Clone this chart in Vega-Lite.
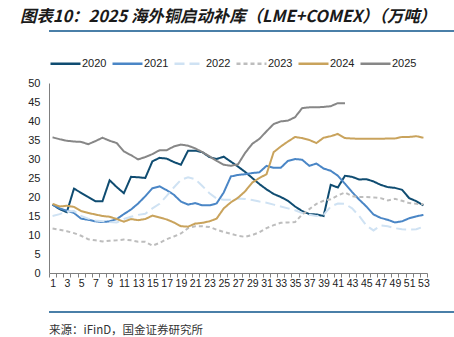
{
"$schema": "https://vega.github.io/schema/vega-lite/v6.json",
"padding": {"left": 20, "top": 8, "right": 0, "bottom": 0},
"background": "white",
"title": {"text": "图表10：2025 海外铜启动补库（LME+COMEX）（万吨）", "anchor": "start", "font": "Noto Sans CJK SC", "fontSize": 16.4, "fontStyle": "italic", "fontWeight": "bold", "color": "#1a1a1a", "offset": 5},
"config": {"view": {"stroke": null}, "font": "Liberation Sans"},
"align": "none",
"spacing": 15,
"resolve": {"scale": {"x": "independent", "y": "independent"}, "axis": {"x": "independent", "y": "independent"}, "legend": {"color": "independent", "strokeDash": "independent"}},
"vconcat": [
{"width": {"step": 434}, "height": 2, "data": {"values": [{"c": "line"}]}, "mark": {"type": "rect", "color": "#4a7fa8"},
 "encoding": {"x": {"field": "c", "type": "nominal", "scale": {"type": "band", "paddingInner": 0, "paddingOuter": 0}, "axis": null}}},
{"width": 378, "height": 190,
"data": {"values": [
{"year":"2020","week":1,"value":18.0},{"year":"2020","week":2,"value":16.8},{"year":"2020","week":3,"value":16.0},{"year":"2020","week":4,"value":22.2},{"year":"2020","week":5,"value":21.1},{"year":"2020","week":6,"value":20.0},{"year":"2020","week":7,"value":18.9},{"year":"2020","week":8,"value":18.9},{"year":"2020","week":9,"value":24.4},{"year":"2020","week":10,"value":22.6},
{"year":"2020","week":11,"value":21.0},{"year":"2020","week":12,"value":25.3},{"year":"2020","week":13,"value":25.2},{"year":"2020","week":14,"value":25.0},{"year":"2020","week":15,"value":29.4},{"year":"2020","week":16,"value":30.3},{"year":"2020","week":17,"value":30.1},{"year":"2020","week":18,"value":29.2},{"year":"2020","week":19,"value":28.5},{"year":"2020","week":20,"value":32.2},
{"year":"2020","week":21,"value":32.2},{"year":"2020","week":22,"value":31.8},{"year":"2020","week":23,"value":30.5},{"year":"2020","week":24,"value":30.0},{"year":"2020","week":25,"value":30.6},{"year":"2020","week":26,"value":29.3},{"year":"2020","week":27,"value":28.0},{"year":"2020","week":28,"value":26.6},{"year":"2020","week":29,"value":25.0},{"year":"2020","week":30,"value":23.4},
{"year":"2020","week":31,"value":22.0},{"year":"2020","week":32,"value":20.8},{"year":"2020","week":33,"value":20.0},{"year":"2020","week":34,"value":19.0},{"year":"2020","week":35,"value":17.5},{"year":"2020","week":36,"value":16.3},{"year":"2020","week":37,"value":15.5},{"year":"2020","week":38,"value":15.4},{"year":"2020","week":39,"value":15.0},{"year":"2020","week":40,"value":23.2},
{"year":"2020","week":41,"value":22.5},{"year":"2020","week":42,"value":25.6},{"year":"2020","week":43,"value":25.3},{"year":"2020","week":44,"value":24.6},{"year":"2020","week":45,"value":24.7},{"year":"2020","week":46,"value":24.1},{"year":"2020","week":47,"value":23.2},{"year":"2020","week":48,"value":22.6},{"year":"2020","week":49,"value":22.4},{"year":"2020","week":50,"value":21.9},
{"year":"2020","week":51,"value":19.7},{"year":"2020","week":52,"value":18.9},{"year":"2020","week":53,"value":17.8},
{"year":"2021","week":1,"value":18.0},{"year":"2021","week":2,"value":17.0},{"year":"2021","week":3,"value":16.4},{"year":"2021","week":4,"value":15.8},{"year":"2021","week":5,"value":14.3},{"year":"2021","week":6,"value":14.0},{"year":"2021","week":7,"value":13.6},{"year":"2021","week":8,"value":13.4},{"year":"2021","week":9,"value":13.6},{"year":"2021","week":10,"value":14.2},
{"year":"2021","week":11,"value":15.5},{"year":"2021","week":12,"value":16.7},{"year":"2021","week":13,"value":18.3},{"year":"2021","week":14,"value":20.2},{"year":"2021","week":15,"value":22.3},{"year":"2021","week":16,"value":22.8},{"year":"2021","week":17,"value":21.8},{"year":"2021","week":18,"value":20.6},{"year":"2021","week":19,"value":18.8},{"year":"2021","week":20,"value":18.0},
{"year":"2021","week":21,"value":18.4},{"year":"2021","week":22,"value":17.8},{"year":"2021","week":23,"value":17.8},{"year":"2021","week":24,"value":18.3},{"year":"2021","week":25,"value":21.2},{"year":"2021","week":26,"value":25.4},{"year":"2021","week":27,"value":25.8},{"year":"2021","week":28,"value":26.0},{"year":"2021","week":29,"value":26.3},{"year":"2021","week":30,"value":26.5},
{"year":"2021","week":31,"value":28.2},{"year":"2021","week":32,"value":27.7},{"year":"2021","week":33,"value":27.7},{"year":"2021","week":34,"value":29.5},{"year":"2021","week":35,"value":30.0},{"year":"2021","week":36,"value":29.8},{"year":"2021","week":37,"value":28.2},{"year":"2021","week":38,"value":28.8},{"year":"2021","week":39,"value":27.5},{"year":"2021","week":40,"value":26.9},
{"year":"2021","week":41,"value":25.6},{"year":"2021","week":42,"value":23.5},{"year":"2021","week":43,"value":21.3},{"year":"2021","week":44,"value":19.3},{"year":"2021","week":45,"value":17.5},{"year":"2021","week":46,"value":15.4},{"year":"2021","week":47,"value":14.5},{"year":"2021","week":48,"value":14.0},{"year":"2021","week":49,"value":13.3},{"year":"2021","week":50,"value":13.6},
{"year":"2021","week":51,"value":14.4},{"year":"2021","week":52,"value":14.9},{"year":"2021","week":53,"value":15.3},
{"year":"2022","week":1,"value":15.0},{"year":"2022","week":2,"value":15.5},{"year":"2022","week":3,"value":16.2},{"year":"2022","week":4,"value":16.3},{"year":"2022","week":5,"value":15.0},{"year":"2022","week":6,"value":14.3},{"year":"2022","week":7,"value":13.8},{"year":"2022","week":8,"value":13.6},{"year":"2022","week":9,"value":13.4},{"year":"2022","week":10,"value":13.3},
{"year":"2022","week":11,"value":14.2},{"year":"2022","week":12,"value":14.8},{"year":"2022","week":13,"value":15.3},{"year":"2022","week":14,"value":15.6},{"year":"2022","week":15,"value":17.0},{"year":"2022","week":16,"value":18.2},{"year":"2022","week":17,"value":20.3},{"year":"2022","week":18,"value":22.5},{"year":"2022","week":19,"value":24.5},{"year":"2022","week":20,"value":25.2},
{"year":"2022","week":21,"value":24.7},{"year":"2022","week":22,"value":22.9},{"year":"2022","week":23,"value":21.0},{"year":"2022","week":24,"value":19.6},{"year":"2022","week":25,"value":19.3},{"year":"2022","week":26,"value":19.3},{"year":"2022","week":27,"value":19.6},{"year":"2022","week":28,"value":19.5},{"year":"2022","week":29,"value":19.2},{"year":"2022","week":30,"value":18.8},
{"year":"2022","week":31,"value":18.5},{"year":"2022","week":32,"value":18.0},{"year":"2022","week":33,"value":17.5},{"year":"2022","week":34,"value":17.0},{"year":"2022","week":35,"value":16.5},{"year":"2022","week":36,"value":15.8},{"year":"2022","week":37,"value":15.3},{"year":"2022","week":38,"value":15.0},{"year":"2022","week":39,"value":15.3},{"year":"2022","week":40,"value":17.5},
{"year":"2022","week":41,"value":18.3},{"year":"2022","week":42,"value":18.2},{"year":"2022","week":43,"value":17.0},{"year":"2022","week":44,"value":15.0},{"year":"2022","week":45,"value":12.5},{"year":"2022","week":46,"value":11.2},{"year":"2022","week":47,"value":12.5},{"year":"2022","week":48,"value":12.3},{"year":"2022","week":49,"value":11.8},{"year":"2022","week":50,"value":11.5},
{"year":"2022","week":51,"value":11.4},{"year":"2022","week":52,"value":11.5},{"year":"2022","week":53,"value":12.2},
{"year":"2023","week":1,"value":11.7},{"year":"2023","week":2,"value":11.4},{"year":"2023","week":3,"value":11.0},{"year":"2023","week":4,"value":10.5},{"year":"2023","week":5,"value":9.8},{"year":"2023","week":6,"value":8.9},{"year":"2023","week":7,"value":8.6},{"year":"2023","week":8,"value":8.3},{"year":"2023","week":9,"value":8.5},{"year":"2023","week":10,"value":8.6},
{"year":"2023","week":11,"value":8.8},{"year":"2023","week":12,"value":8.6},{"year":"2023","week":13,"value":8.2},{"year":"2023","week":14,"value":8.2},{"year":"2023","week":15,"value":7.2},{"year":"2023","week":16,"value":7.9},{"year":"2023","week":17,"value":8.9},{"year":"2023","week":18,"value":9.6},{"year":"2023","week":19,"value":10.4},{"year":"2023","week":20,"value":11.8},
{"year":"2023","week":21,"value":12.3},{"year":"2023","week":22,"value":12.3},{"year":"2023","week":23,"value":12.1},{"year":"2023","week":24,"value":11.4},{"year":"2023","week":25,"value":10.8},{"year":"2023","week":26,"value":10.3},{"year":"2023","week":27,"value":9.8},{"year":"2023","week":28,"value":9.5},{"year":"2023","week":29,"value":10.0},{"year":"2023","week":30,"value":10.7},
{"year":"2023","week":31,"value":11.8},{"year":"2023","week":32,"value":12.6},{"year":"2023","week":33,"value":13.2},{"year":"2023","week":34,"value":13.3},{"year":"2023","week":35,"value":13.4},{"year":"2023","week":36,"value":15.4},{"year":"2023","week":37,"value":16.8},{"year":"2023","week":38,"value":18.2},{"year":"2023","week":39,"value":19.0},{"year":"2023","week":40,"value":19.4},
{"year":"2023","week":41,"value":20.4},{"year":"2023","week":42,"value":21.2},{"year":"2023","week":43,"value":20.2},{"year":"2023","week":44,"value":20.0},{"year":"2023","week":45,"value":20.0},{"year":"2023","week":46,"value":19.9},{"year":"2023","week":47,"value":19.7},{"year":"2023","week":48,"value":19.1},{"year":"2023","week":49,"value":19.5},{"year":"2023","week":50,"value":19.0},
{"year":"2023","week":51,"value":18.4},{"year":"2023","week":52,"value":18.2},{"year":"2023","week":53,"value":18.1},
{"year":"2024","week":1,"value":18.2},{"year":"2024","week":2,"value":17.5},{"year":"2024","week":3,"value":17.7},{"year":"2024","week":4,"value":17.4},{"year":"2024","week":5,"value":16.3},{"year":"2024","week":6,"value":15.8},{"year":"2024","week":7,"value":15.4},{"year":"2024","week":8,"value":15.0},{"year":"2024","week":9,"value":14.8},{"year":"2024","week":10,"value":14.2},
{"year":"2024","week":11,"value":13.5},{"year":"2024","week":12,"value":14.2},{"year":"2024","week":13,"value":13.9},{"year":"2024","week":14,"value":14.2},{"year":"2024","week":15,"value":15.1},{"year":"2024","week":16,"value":14.6},{"year":"2024","week":17,"value":14.1},{"year":"2024","week":18,"value":13.3},{"year":"2024","week":19,"value":12.3},{"year":"2024","week":20,"value":12.2},
{"year":"2024","week":21,"value":13.0},{"year":"2024","week":22,"value":13.2},{"year":"2024","week":23,"value":13.6},{"year":"2024","week":24,"value":14.3},{"year":"2024","week":25,"value":17.0},{"year":"2024","week":26,"value":18.6},{"year":"2024","week":27,"value":19.8},{"year":"2024","week":28,"value":21.5},{"year":"2024","week":29,"value":23.8},{"year":"2024","week":30,"value":25.0},
{"year":"2024","week":31,"value":26.0},{"year":"2024","week":32,"value":31.8},{"year":"2024","week":33,"value":33.3},{"year":"2024","week":34,"value":34.6},{"year":"2024","week":35,"value":35.8},{"year":"2024","week":36,"value":35.5},{"year":"2024","week":37,"value":35.0},{"year":"2024","week":38,"value":34.2},{"year":"2024","week":39,"value":35.6},{"year":"2024","week":40,"value":36.0},
{"year":"2024","week":41,"value":36.6},{"year":"2024","week":42,"value":35.5},{"year":"2024","week":43,"value":35.4},{"year":"2024","week":44,"value":35.3},{"year":"2024","week":45,"value":35.3},{"year":"2024","week":46,"value":35.3},{"year":"2024","week":47,"value":35.3},{"year":"2024","week":48,"value":35.4},{"year":"2024","week":49,"value":35.4},{"year":"2024","week":50,"value":35.8},
{"year":"2024","week":51,"value":35.8},{"year":"2024","week":52,"value":36.0},{"year":"2024","week":53,"value":35.6},
{"year":"2025","week":1,"value":35.7},{"year":"2025","week":2,"value":35.2},{"year":"2025","week":3,"value":34.8},{"year":"2025","week":4,"value":34.6},{"year":"2025","week":5,"value":34.5},{"year":"2025","week":6,"value":33.9},{"year":"2025","week":7,"value":34.7},{"year":"2025","week":8,"value":35.6},{"year":"2025","week":9,"value":34.8},{"year":"2025","week":10,"value":34.2},
{"year":"2025","week":11,"value":32.0},{"year":"2025","week":12,"value":31.0},{"year":"2025","week":13,"value":29.9},{"year":"2025","week":14,"value":30.5},{"year":"2025","week":15,"value":31.3},{"year":"2025","week":16,"value":32.3},{"year":"2025","week":17,"value":32.3},{"year":"2025","week":18,"value":33.3},{"year":"2025","week":19,"value":33.8},{"year":"2025","week":20,"value":33.5},
{"year":"2025","week":21,"value":32.8},{"year":"2025","week":22,"value":31.8},{"year":"2025","week":23,"value":30.7},{"year":"2025","week":24,"value":29.5},{"year":"2025","week":25,"value":28.5},{"year":"2025","week":26,"value":28.2},{"year":"2025","week":27,"value":28.6},{"year":"2025","week":28,"value":31.6},{"year":"2025","week":29,"value":34.0},{"year":"2025","week":30,"value":35.3},
{"year":"2025","week":31,"value":37.3},{"year":"2025","week":32,"value":39.2},{"year":"2025","week":33,"value":39.9},{"year":"2025","week":34,"value":40.1},{"year":"2025","week":35,"value":41.0},{"year":"2025","week":36,"value":43.4},{"year":"2025","week":37,"value":43.6},{"year":"2025","week":38,"value":43.6},{"year":"2025","week":39,"value":43.7},{"year":"2025","week":40,"value":43.9},
{"year":"2025","week":41,"value":44.7},{"year":"2025","week":42,"value":44.7}
]},
"mark": {"type": "line", "strokeWidth": 2},
"encoding": {
"x": {"field": "week", "type": "ordinal", "bandPosition": 0.5, "scale": {"type": "band", "paddingInner": 0, "paddingOuter": 0},
 "axis": {"title": null, "labelAngle": 0, "tickBand": "extent", "labelExpr": "datum.value % 2 == 1 ? datum.label : ''", "domainColor": "#7f7f7f", "tickColor": "#7f7f7f", "tickSize": 4, "labelFontSize": 10.5, "labelColor": "#222222", "labelPadding": 1}},
"y": {"field": "value", "type": "quantitative", "scale": {"domain": [0, 50]},
 "axis": {"title": null, "values": [0,5,10,15,20,25,30,35,40,45,50], "grid": false, "ticks": false, "domainColor": "#7f7f7f", "labelFontSize": 11, "labelColor": "#222222", "labelPadding": 9, "minExtent": 29}},
"color": {"field": "year", "type": "nominal",
 "scale": {"domain": ["2020","2021","2022","2023","2024","2025"], "range": ["#0f4c71","#4a86c6","#cfe2f3","#bdbdbd","#c9a35c","#878787"]},
 "legend": {"orient": "top", "direction": "horizontal", "title": null, "symbolType": "stroke", "symbolSize": 900, "symbolStrokeWidth": 2.5, "labelFontSize": 11, "labelColor": "#222222", "columnPadding": 0, "labelOffset": 0, "offset": 14}},
"strokeDash": {"field": "year", "type": "nominal",
 "scale": {"domain": ["2020","2021","2022","2023","2024","2025"], "range": [[1,0],[1,0],[10,5],[4,3],[1,0],[1,0]]},
 "legend": {"orient": "top", "direction": "horizontal", "title": null, "symbolType": "stroke", "symbolSize": 900, "symbolStrokeWidth": 2.5, "labelFontSize": 11, "labelColor": "#222222", "columnPadding": 0, "labelOffset": 0, "offset": 14}}
}
},
{"width": {"step": 434}, "height": 9, "data": {"values": [{"c": "line", "lo": 0, "hi": 0.22}]}, "mark": {"type": "rect", "color": "#4a7fa8"},
 "encoding": {"x": {"field": "c", "type": "nominal", "scale": {"type": "band", "paddingInner": 0, "paddingOuter": 0}, "axis": null},
  "y": {"field": "lo", "type": "quantitative", "scale": {"domain": [0, 1]}, "axis": null}, "y2": {"field": "hi"}},
 "title": {"text": "来源：iFinD，国金证券研究所", "orient": "bottom", "anchor": "start", "fontSize": 11.5, "fontWeight": "normal", "font": "Noto Sans CJK SC", "color": "#333333", "offset": 12}}
]
}
